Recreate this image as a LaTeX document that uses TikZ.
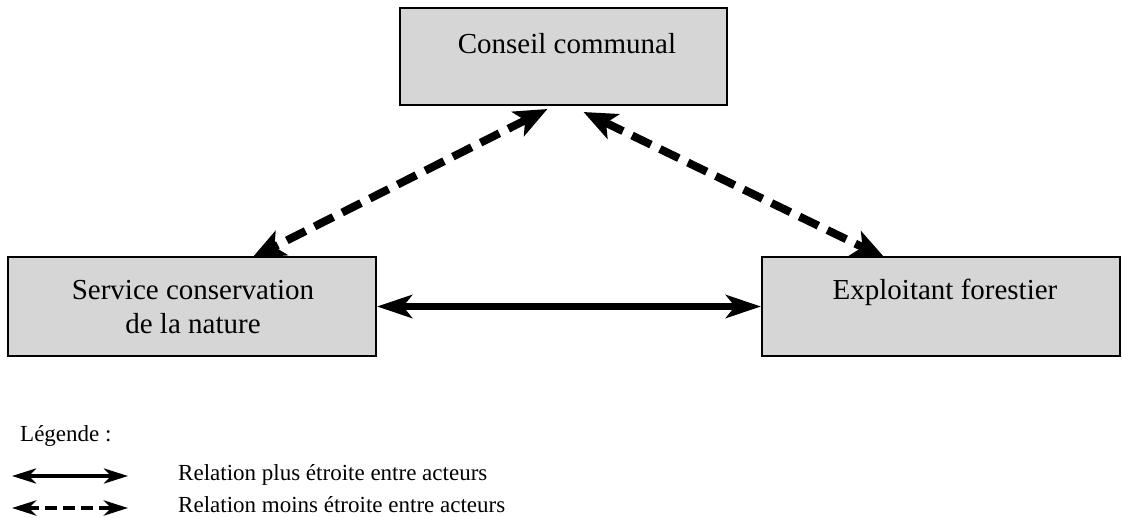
\documentclass[tikz,border=0pt]{standalone}
\usepackage{fontspec}
\setmainfont{Liberation Serif}
\usetikzlibrary{arrows.meta,calc}
\begin{document}
\begin{tikzpicture}[x=1pt,y=-1pt,
  box/.style={draw=black,line width=2pt,fill=boxgray,rectangle,inner sep=0pt},
  boxtext/.style={font=\fontsize{29}{34}\selectfont,anchor=base,inner sep=0pt,align=center},
  legtext/.style={font=\fontsize{23}{27}\selectfont,anchor=base west,inner sep=0pt},
  strong/.style={line width=7.5pt,{Stealth[length=35pt,width=23pt,inset=9pt]}-{Stealth[length=35pt,width=23pt,inset=9pt]}},
  weak/.style={line width=8pt,dash pattern=on 21pt off 10pt,{Stealth[length=33pt,width=27pt,inset=8pt]}-{Stealth[length=33pt,width=27pt,inset=8pt]}},
  legstrong/.style={line width=4pt,{Stealth[length=24pt,width=15pt,inset=7pt]}-{Stealth[length=24pt,width=15pt,inset=7pt]}},
  legweak/.style={line width=4.5pt,dash pattern=on 12pt off 6pt,{Stealth[length=24pt,width=15pt,inset=7pt]}-{Stealth[length=24pt,width=15pt,inset=7pt]}}
]
\definecolor{boxgray}{RGB}{214,214,214}
\useasboundingbox (0,0) rectangle (1122,518);
% boxes
\node[box,minimum width=327pt,minimum height=97pt] (cc) at (563.5,56.5) {};
\node[box,minimum width=368pt,minimum height=99pt] (scn) at (192,306.5) {};
\node[box,minimum width=358pt,minimum height=99pt] (ef) at (941,306.5) {};
% box texts
\node[boxtext] (cct) at (567,54) {Conseil communal};
\node[boxtext] (scnt) at (193,334) {Service conservation\\de la nature};
\node[boxtext] (eft) at (945,300) {Exploitant forestier};
% connectors
\draw[strong] (scn.east) -- (ef.west);
\draw[weak] ([xshift=-16pt,yshift=-3pt]cc.south) -- ([xshift=60pt,yshift=-2pt]scn.north);
\draw[weak] ([xshift=20pt,yshift=-6pt]cc.south) -- ([xshift=-56pt,yshift=-2pt]ef.north);
% legend
\node[legtext] (leg) at (20,442) {Légende :};
\coordinate (l1a) at (12,476);
\coordinate (l1b) at (128,476);
\coordinate (l2a) at (12,508);
\coordinate (l2b) at (128,508);
\draw[legstrong] (l1a) -- (l1b);
\draw[legweak] (l2a) -- (l2b);
\node[legtext] (leg1) at (178,480) {Relation plus étroite entre acteurs};
\node[legtext] (leg2) at (178,512) {Relation moins étroite entre acteurs};
\end{tikzpicture}
\end{document}
